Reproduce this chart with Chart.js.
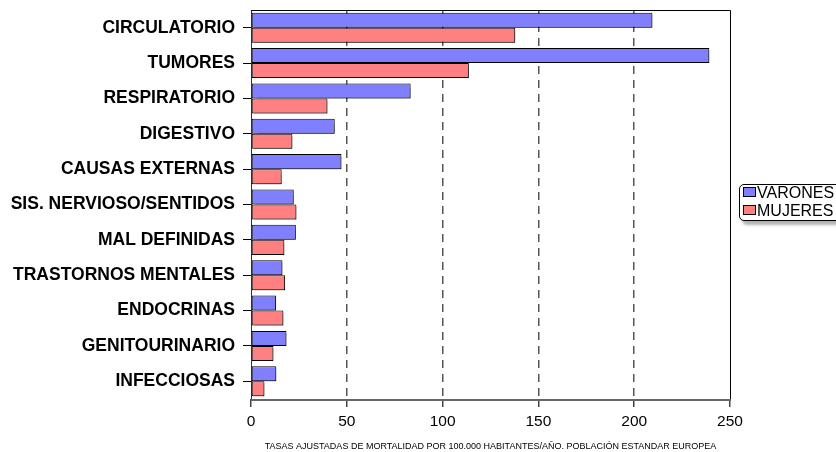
<!DOCTYPE html>
<html>
<head>
<meta charset="utf-8">
<script src="https://cdn.jsdelivr.net/npm/chart.js@4/dist/chart.umd.min.js"></script>
<style>
html,body{margin:0;padding:0;background:#fff;}
#wrap{position:relative;width:836px;height:452px;}
#legend{position:absolute;left:739px;top:184px;width:110px;height:35px;border:1.5px solid #000;border-radius:5px;background:#fff;box-shadow:3px 4px 3px rgba(0,0,0,0.3);font-family:"Liberation Sans",Arial,sans-serif;font-size:16px;color:#000;}
.item{position:absolute;left:3px;height:18px;line-height:18px;white-space:nowrap;}
.sw{display:inline-block;width:11px;height:8px;border:1px solid #000;margin-right:1px;vertical-align:1px;}
</style>
</head>
<body>
<div id="wrap">
<canvas id="c" width="836" height="452"></canvas>
<div id="legend">
  <div class="item" style="top:-1px"><span class="sw" style="background:#8080FF"></span>VARONES</div>
  <div class="item" style="top:17px"><span class="sw" style="background:#FF8080"></span>MUJERES</div>
</div>
</div>
<script>
const categories = ["CIRCULATORIO","TUMORES","RESPIRATORIO","DIGESTIVO","CAUSAS EXTERNAS","SIS. NERVIOSO/SENTIDOS","MAL DEFINIDAS","TRASTORNOS MENTALES","ENDOCRINAS","GENITOURINARIO","INFECCIOSAS"];
const varones = [209.5, 239.2, 83.3, 43.7, 47.2, 22.3, 23.4, 16.4, 13.1, 18.5, 13.2];
const mujeres = [137.9, 113.7, 39.9, 21.6, 16.0, 23.7, 17.4, 17.8, 16.9, 11.7, 7.0];
const xTicks = [0, 50, 100, 150, 200, 250];
const xTitle = "TASAS AJUSTADAS DE MORTALIDAD POR 100.000 HABITANTES/AÑO. POBLACIÓN ESTANDAR EUROPEA";

const FONT = '"Liberation Sans", Arial, sans-serif';

const shadowPlugin = {
  id: 'barShadow',
  beforeDatasetsDraw(chart) {
    const ctx = chart.ctx;
    ctx.save();
    ctx.shadowColor = 'rgba(0,0,0,0.35)';
    ctx.shadowOffsetX = 2;
    ctx.shadowOffsetY = 2;
    ctx.shadowBlur = 1;
  },
  afterDatasetsDraw(chart) {
    chart.ctx.restore();
  }
};
const boxPlugin = {
  id: 'plotBox',
  afterDraw(chart) {
    const {ctx, chartArea: a} = chart;
    ctx.save();
    ctx.strokeStyle = '#000';
    ctx.lineWidth = 1;
    ctx.beginPath();
    ctx.moveTo(a.left, a.top + 0.5);
    ctx.lineTo(a.right + 0.5, a.top + 0.5);
    ctx.lineTo(a.right + 0.5, a.bottom);
    ctx.stroke();
    ctx.strokeStyle = '#666';
    ctx.lineWidth = 2;
    ctx.beginPath();
    ctx.moveTo(a.left, a.bottom + 1);
    ctx.lineTo(a.right + 1, a.bottom + 1);
    ctx.stroke();
    ctx.restore();
  }
};

new Chart(document.getElementById('c'), {
  type: 'bar',
  data: {
    labels: categories,
    datasets: [
      {label: 'VARONES', data: varones, backgroundColor: '#8080FF', borderColor: '#000', borderWidth: 1, borderSkipped: false, categoryPercentage: 0.85, barPercentage: 1.0},
      {label: 'MUJERES', data: mujeres, backgroundColor: '#FF8080', borderColor: '#000', borderWidth: 1, borderSkipped: false, categoryPercentage: 0.85, barPercentage: 1.0}
    ]
  },
  options: {
    indexAxis: 'y',
    responsive: false,
    animation: false,
    layout: {padding: {top: 10, right: 106, left: 0, bottom: 0}},
    plugins: {legend: {display: false}, tooltip: {enabled: false}},
    scales: {
      x: {
        min: 0, max: 250,
        afterBuildTicks(scale) { scale.ticks = xTicks.map(v => ({value: v})); },
        afterFit(scale) { scale.height = 53; scale.paddingLeft = 0; scale.paddingRight = 0; },
        ticks: {color: '#000', font: {family: FONT, size: 15.5}, padding: 5},
        grid: {
          drawOnChartArea: true,
          tickLength: 8,
          tickColor: '#444',
          tickBorderDash: [],
          color: ctx => (ctx.tick && (ctx.tick.value === 0 || ctx.tick.value === 250)) ? 'rgba(0,0,0,0)' : '#555',
          lineWidth: 1.5
        },
        border: {display: false, dash: [8, 6]},
        title: {display: true, text: xTitle, color: '#000', font: {family: FONT, size: 9}, padding: {top: 5, bottom: 0}}
      },
      y: {
        afterFit(scale) { scale.width = 251; scale.paddingTop = 0; scale.paddingBottom = 0; },
        ticks: {color: '#000', font: {family: FONT, size: 17.5, weight: 'bold'}, padding: 8},
        grid: {drawOnChartArea: false, offset: false, tickLength: 8, tickColor: '#000'},
        border: {display: true, color: '#333', width: 1}
      }
    }
  },
  plugins: [shadowPlugin, boxPlugin]
});
</script>
</body>
</html>
